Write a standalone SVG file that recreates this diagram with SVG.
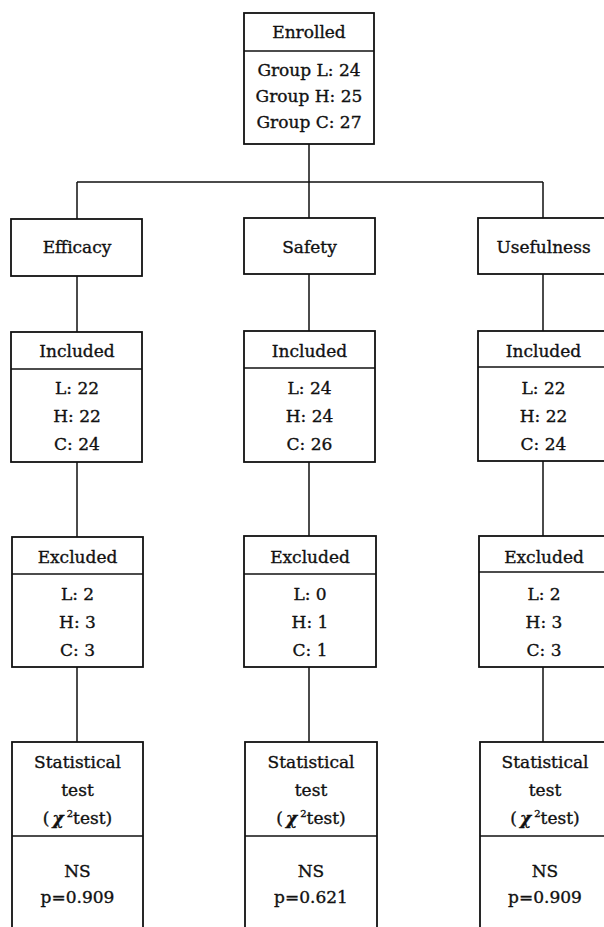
<svg xmlns="http://www.w3.org/2000/svg" width="604" height="927" viewBox="0 0 604 927">
<style>
.box{fill:#fff;stroke:#111;stroke-width:1.8}
.div{stroke:#111;stroke-width:1.6}
.conn{fill:none;stroke:#111;stroke-width:1.5}
text{font-family:"DejaVu Serif","Liberation Serif",serif;font-size:17px;fill:#111;stroke:#111;stroke-width:0.35;text-anchor:middle}
.chi{font-style:italic;font-weight:bold}
.sup{font-size:10px}
</style>
<rect width="604" height="927" fill="#fff"/>
<g id="connectors">
<path class="conn" d="M309,144 V182 M77,182 H543 M77,182 V219 M309,182 V218 M543,182 V218"/>
<path class="conn" d="M77,276 V332 M309,274 V331 M543,274 V331"/>
<path class="conn" d="M77,462 V537 M309,462 V536 M543,461 V536"/>
<path class="conn" d="M77,667 V742 M309,667 V742 M543,667 V742"/>
</g>
<g id="enrolled">
<rect class="box" x="244" y="13" width="130" height="131"/>
<line class="div" x1="244" y1="51" x2="374" y2="51"/>
<text x="309" y="38">Enrolled</text>
<text x="309" y="76">Group L: 24</text>
<text x="309" y="102">Group H: 25</text>
<text x="309" y="128">Group C: 27</text>
</g>
<g id="efficacy">
<rect class="box" x="11" y="219" width="131" height="57"/>
<text x="77" y="253">Efficacy</text>
</g>
<g id="safety">
<rect class="box" x="244" y="218" width="131" height="56"/>
<text x="309.5" y="253">Safety</text>
</g>
<g id="usefulness">
<rect class="box" x="478" y="218" width="131" height="56"/>
<text x="543.5" y="253">Usefulness</text>
</g>
<g id="included-efficacy">
<rect class="box" x="11" y="332" width="131" height="130"/>
<line class="div" x1="11" y1="369" x2="142" y2="369"/>
<text x="77" y="357">Included</text>
<text x="77" y="394">L: 22</text>
<text x="77" y="422">H: 22</text>
<text x="77" y="450">C: 24</text>
</g>
<g id="included-safety">
<rect class="box" x="244" y="331" width="131" height="131"/>
<line class="div" x1="244" y1="368" x2="375" y2="368"/>
<text x="309.5" y="357">Included</text>
<text x="309.5" y="394">L: 24</text>
<text x="309.5" y="422">H: 24</text>
<text x="309.5" y="450">C: 26</text>
</g>
<g id="included-usefulness">
<rect class="box" x="478" y="331" width="131" height="130"/>
<line class="div" x1="478" y1="367" x2="609" y2="367"/>
<text x="543.5" y="357">Included</text>
<text x="543.5" y="394">L: 22</text>
<text x="543.5" y="422">H: 22</text>
<text x="543.5" y="450">C: 24</text>
</g>
<g id="excluded-efficacy">
<rect class="box" x="12" y="537" width="131" height="130"/>
<line class="div" x1="12" y1="574" x2="143" y2="574"/>
<text x="77.5" y="563">Excluded</text>
<text x="77.5" y="600">L: 2</text>
<text x="77.5" y="628">H: 3</text>
<text x="77.5" y="656">C: 3</text>
</g>
<g id="excluded-safety">
<rect class="box" x="244" y="536" width="132" height="131"/>
<line class="div" x1="244" y1="574" x2="376" y2="574"/>
<text x="310" y="563">Excluded</text>
<text x="310" y="600">L: 0</text>
<text x="310" y="628">H: 1</text>
<text x="310" y="656">C: 1</text>
</g>
<g id="excluded-usefulness">
<rect class="box" x="479" y="536" width="131" height="131"/>
<line class="div" x1="479" y1="572" x2="610" y2="572"/>
<text x="544" y="563">Excluded</text>
<text x="544" y="600">L: 2</text>
<text x="544" y="628">H: 3</text>
<text x="544" y="656">C: 3</text>
</g>
<g id="stat-efficacy">
<rect class="box" x="12" y="742" width="131" height="200"/>
<line class="div" x1="12" y1="836" x2="143" y2="836"/>
<text x="77.5" y="768">Statistical</text>
<text x="77.5" y="796">test</text>
<text x="77.5" y="824">(<tspan class="chi" dx="3">χ</tspan><tspan class="sup" dx="3" dy="-7">2</tspan><tspan dy="7">test)</tspan></text>
<text x="77.5" y="877">NS</text>
<text x="77.5" y="903">p=0.909</text>
</g>
<g id="stat-safety">
<rect class="box" x="245" y="742" width="132" height="200"/>
<line class="div" x1="245" y1="836" x2="377" y2="836"/>
<text x="311" y="768">Statistical</text>
<text x="311" y="796">test</text>
<text x="311" y="824">(<tspan class="chi" dx="3">χ</tspan><tspan class="sup" dx="3" dy="-7">2</tspan><tspan dy="7">test)</tspan></text>
<text x="311" y="877">NS</text>
<text x="311" y="903">p=0.621</text>
</g>
<g id="stat-usefulness">
<rect class="box" x="480" y="742" width="131" height="200"/>
<line class="div" x1="480" y1="836" x2="611" y2="836"/>
<text x="545" y="768">Statistical</text>
<text x="545" y="796">test</text>
<text x="545" y="824">(<tspan class="chi" dx="3">χ</tspan><tspan class="sup" dx="3" dy="-7">2</tspan><tspan dy="7">test)</tspan></text>
<text x="545" y="877">NS</text>
<text x="545" y="903">p=0.909</text>
</g>
</svg>
